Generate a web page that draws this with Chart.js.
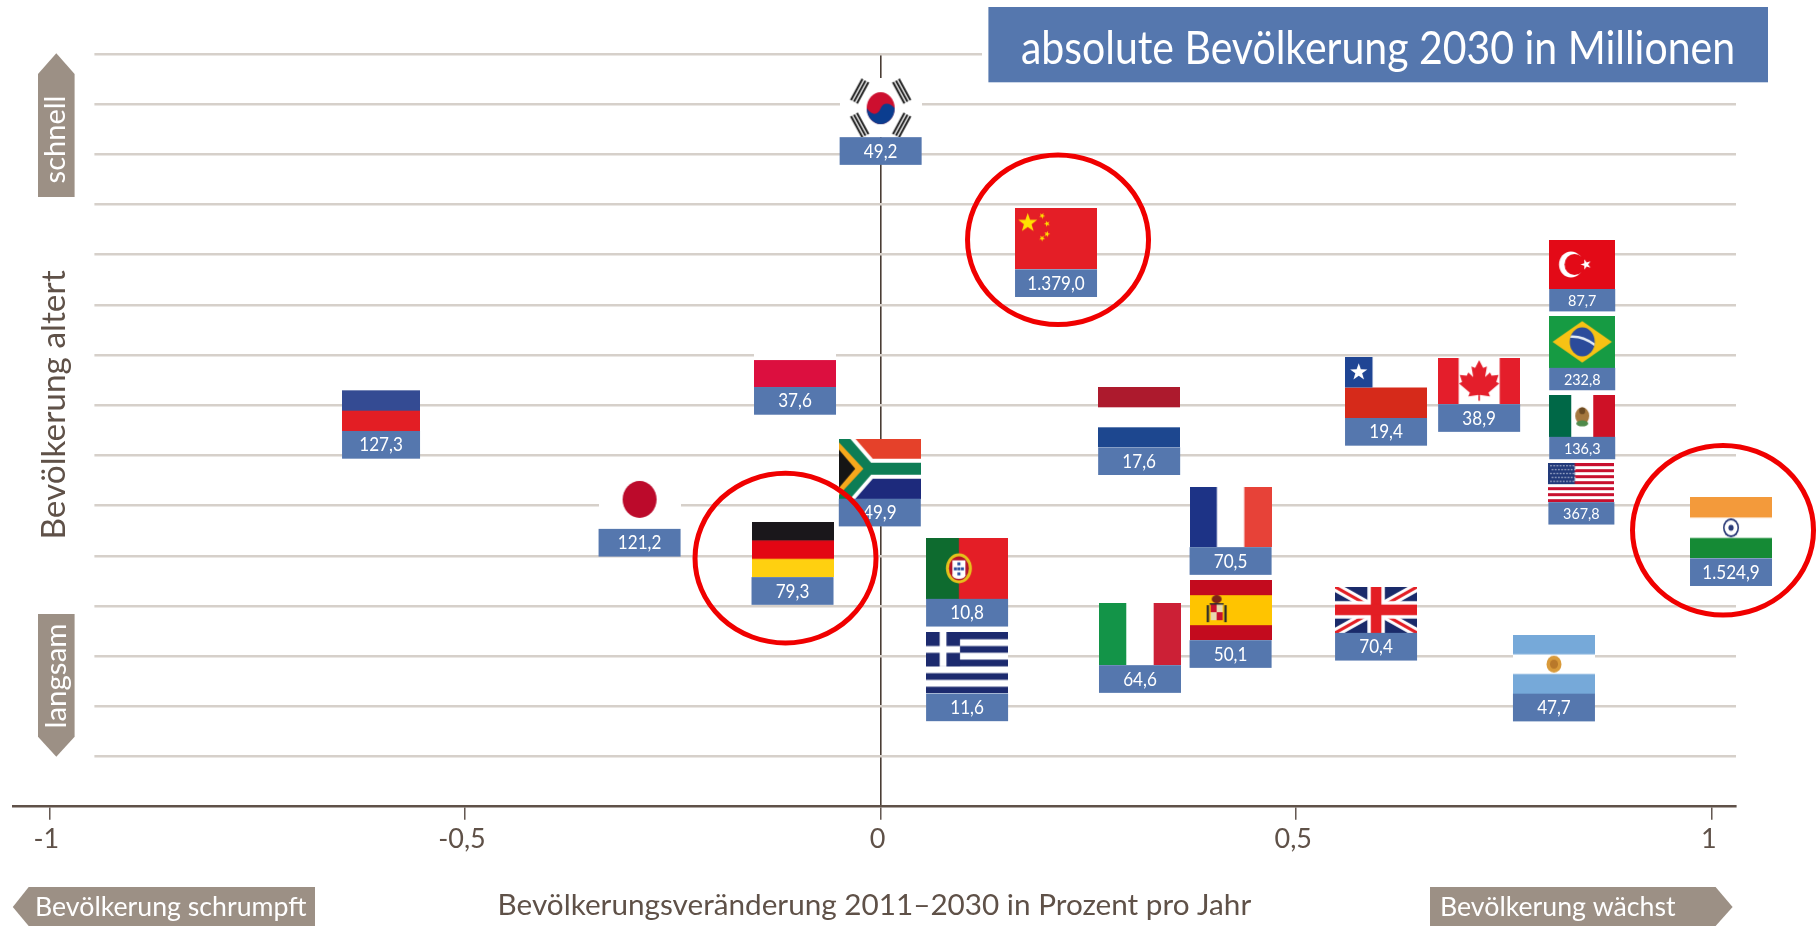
<!DOCTYPE html>
<html lang="de">
<head>
<meta charset="utf-8">
<title>absolute Bevölkerung 2030 in Millionen</title>
<script src="https://cdn.jsdelivr.net/npm/chart.js@4"></script>
<style>html,body{margin:0;padding:0;background:#fff;overflow:hidden}canvas{display:block}</style>
</head>
<body>
<canvas id="c" width="1818" height="926"></canvas>
<script>
// ---------- data ----------
const countries = ['KR','RU','PL','ZA','JP','DE','PT','GR','IT','FR','ES','GB','AR','IN','US','TR','BR','MX','CL','CA','CN','NL'];
const xValues = [0.000,-0.601,-0.103,-0.001,-0.290,-0.106,0.104,0.104,0.312,0.421,0.421,0.596,0.810,1.023,0.843,0.844,0.844,0.844,0.608,0.720,0.211,0.311];
const yValues = [13.925,8.092,8.898,6.733,6.122,5.121,4.748,2.863,3.437,5.768,3.915,3.921,2.839,5.556,6.455,10.801,9.260,7.786,8.351,8.477,11.313,7.757];
const population = [49.2,127.3,37.6,49.9,121.2,79.3,10.8,11.6,64.6,70.5,50.1,70.4,47.7,1524.9,367.8,87.7,232.8,136.3,19.4,38.9,1379.0,17.6];
const xTickValues = [-1,-0.5,0,0.5,1];
const yGridValues = [0,1,2,3,4,5,6,7,8,9,10,11,12,13,14,15];
const highlightCountries = ['CN','DE','IN'];
const highlightOffsetY = {CN:-0.02,DE:-0.17,IN:-0.05};

const chartTitle = 'absolute Bevölkerung 2030 in Millionen';
const xAxisTitle = 'Bevölkerungsveränderung 2011–2030 in Prozent pro Jahr';
const yAxisTitle = 'Bevölkerung altert';
const tagFast = 'schnell', tagSlow = 'langsam', tagShrink = 'Bevölkerung schrumpft', tagGrow = 'Bevölkerung wächst';

// ---------- styles ----------
const FONT = 'Lato';
const BROWN = '#5f5148', GRID = '#d6d0ca', TAG = '#9c9085', BLUE = '#5577ae', RED = '#f00000';

function bars(c,w,h,dir,cols){cols.forEach((col,i)=>{c.fillStyle=col;
  if(dir==='h')c.fillRect(0,h*i/cols.length,w,h/cols.length+.5);else c.fillRect(w*i/cols.length,0,w/cols.length+.5,h);});}
function star(c,x,y,r,rot,col){c.fillStyle=col;c.beginPath();
  for(let i=0;i<10;i++){const a=rot-Math.PI/2+i*Math.PI/5,q=i%2?r*.4:r;c.lineTo(x+q*Math.cos(a),y+q*Math.sin(a));}
  c.closePath();c.fill();}
function ell(c,x,y,rx,ry,col){c.fillStyle=col;c.beginPath();c.ellipse(x,y,rx,ry,0,0,7);c.fill();}
function poly(c,col,pts){c.fillStyle=col;c.beginPath();pts.forEach(p=>c.lineTo(p[0],p[1]));c.closePath();c.fill();}

const flagStyles = {
 KR:{w:82,h:59,draw(c,w,h){c.fillStyle='#fff';c.fillRect(0,0,w,h);
   const cx=w/2,cy=h/2+.5;
   [[-21,-17,.5],[21,-17,-.5],[-21,17,-.5],[21,17,.5]].forEach(t=>{c.save();c.translate(cx+t[0],cy+t[1]);c.rotate(t[2]);c.fillStyle='#1c1c1c';
     for(let i=-1;i<=1;i++)c.fillRect(i*3.4-1,-12,2,24);c.restore();});
   ell(c,cx,cy,14,16,'#cd0f2f');
   c.fillStyle='#0b3d8f';c.beginPath();c.ellipse(cx,cy,14,16,0,0,Math.PI);c.lineTo(cx-14,cy);c.bezierCurveTo(cx-8,cy+9,cx-2,cy+6,cx,cy);c.bezierCurveTo(cx+3,cy-7,cx+10,cy-5,cx+14,cy);c.fill();}},
 RU:{w:78,h:61,draw(c,w,h){bars(c,w,h,'h',['#fff','#344b93','#e31e24']);}},
 PL:{w:82,h:54,draw(c,w,h){bars(c,w,h,'h',['#fff','#dc0f3f']);}},
 ZA:{w:82,h:60,draw(c,w,h){c.fillStyle='#e5412a';c.fillRect(0,0,w,h/2);c.fillStyle='#1d2a7c';c.fillRect(0,h/2,w,h/2);
   const m=h/2,j=w*.36;
   c.lineJoin='miter';
   const path=()=>{c.beginPath();c.moveTo(0,-4);c.lineTo(j,m);c.lineTo(w+2,m);c.moveTo(j,m);c.lineTo(0,h+4);};
   c.strokeStyle='#fff';c.lineWidth=h*.33;path();c.stroke();
   c.strokeStyle='#0d7d55';c.lineWidth=h*.2;path();c.stroke();
   poly(c,'#f6a81c',[[0,h*.06],[w*.3,m],[0,h*.94]]);
   poly(c,'#151515',[[0,h*.18],[w*.2,m],[0,h*.82]]);}},
 JP:{w:82,h:59,draw(c,w,h){c.fillStyle='#fff';c.fillRect(0,0,w,h);ell(c,w/2,h/2,17,18.5,'#bc0a2b');}},
 DE:{w:82,h:55,draw(c,w,h){bars(c,w,h,'h',['#1a171b','#e30613','#ffd010']);}},
 PT:{w:82,h:61,draw(c,w,h){c.fillStyle='#e41e26';c.fillRect(0,0,w,h);c.fillStyle='#0e6b2f';c.fillRect(0,0,w*.4,h);
   const x=w*.4,y=h*.5;ell(c,x,y,13,15,'#e6c21c');ell(c,x,y,10,12,'#b5142a');c.fillStyle='#fff';c.fillRect(x-6.5,y-8,13,15);ell(c,x,y+7,6.5,3.5,'#fff');
   c.fillStyle='#2a4fa0';c.fillRect(x-1.5,y-6,3,3);c.fillRect(x-1.5,y-1,3,3);c.fillRect(x-1.5,y+4,3,3);c.fillRect(x-5,y-1,3,3);c.fillRect(x+2,y-1,3,3);}},
 GR:{w:82,h:61,draw(c,w,h){const s=h/9;for(let i=0;i<9;i++){c.fillStyle=i%2?'#fff':'#1c2a6e';c.fillRect(0,i*s,w,s+.4);}
   c.fillStyle='#1c2a6e';c.fillRect(0,0,s*5,s*5);c.fillStyle='#fff';c.fillRect(s*2,0,s,s*5);c.fillRect(0,s*2,s*5,s);}},
 IT:{w:82,h:62,draw(c,w,h){bars(c,w,h,'v',['#139448','#fff','#cc2036']);}},
 FR:{w:82,h:60,draw(c,w,h){bars(c,w,h,'v',['#1d3386','#fff','#e74238']);}},
 ES:{w:82,h:60,draw(c,w,h){bars(c,w,h,'h',['#c30b1e','#ffc400','#ffc400','#c30b1e']);
   const x=w*.33,y=h*.5;c.fillStyle='#c8102e';c.fillRect(x-6,y-6,6,8);c.fillStyle='#e8d9b0';c.fillRect(x,y-6,6,8);c.fillStyle='#e8d9b0';c.fillRect(x-6,y+2,6,8);c.fillStyle='#c8102e';c.fillRect(x,y+2,6,8);
   c.fillStyle='#2c2c2c';c.fillRect(x-10,y-5,2.4,17);c.fillRect(x+7.6,y-5,2.4,17);c.fillRect(x-7,y-7,14,1.5);ell(c,x,y-11,5,4,'#7d2418');}},
 GB:{w:82,h:46,draw(c,w,h){c.fillStyle='#1a2a6a';c.fillRect(0,0,w,h);c.save();
   c.beginPath();c.rect(0,0,w,h);c.clip();
   c.strokeStyle='#fff';c.lineWidth=h*.2;c.beginPath();c.moveTo(0,0);c.lineTo(w,h);c.moveTo(w,0);c.lineTo(0,h);c.stroke();
   c.strokeStyle='#e31e24';c.lineWidth=h*.07;c.beginPath();c.moveTo(0,0);c.lineTo(w,h);c.moveTo(w,0);c.lineTo(0,h);c.stroke();c.restore();
   c.fillStyle='#fff';c.fillRect(w/2-h*.19,0,h*.38,h);c.fillRect(0,h/2-h*.19,w,h*.38);
   c.fillStyle='#e31e24';c.fillRect(w/2-h*.115,0,h*.23,h);c.fillRect(0,h/2-h*.115,w,h*.23);}},
 AR:{w:82,h:59,draw(c,w,h){bars(c,w,h,'h',['#76a9d9','#fff','#76a9d9']);
   ell(c,w/2,h/2,7.5,8.5,'#d99a3a');ell(c,w/2,h/2,4,4.6,'#b9782a');}},
 IN:{w:82,h:61,draw(c,w,h){bars(c,w,h,'h',['#f39a3b','#fff','#158a35']);
   ell(c,w/2,h/2,8,9.4,'#2a3a78');ell(c,w/2,h/2,6.4,7.6,'#fff');ell(c,w/2,h/2,2.6,3,'#2a3a78');}},
 US:{w:66,h:39,draw(c,w,h){const s=h/13;for(let i=0;i<13;i++){c.fillStyle=i%2?'#fff':'#c8102e';c.fillRect(0,i*s,w,s+.3);}
   c.fillStyle='#223a7a';c.fillRect(0,0,w*.4,s*7);c.fillStyle='#e8ecf5';
   for(let r=0;r<5;r++)for(let k=0;k<8;k++)c.fillRect(2+k*3.2+(r%2)*1.5,2+r*3.9,1.2,1.2);}},
 TR:{w:66,h:49,draw(c,w,h){c.fillStyle='#e30a17';c.fillRect(0,0,w,h);const x=w*.33,y=h*.5;
   ell(c,x,y,12,13,'#fff');ell(c,x+3.5,y,10,10.5,'#e30a17');star(c,x+15,y,5.5,-Math.PI/2,'#fff');}},
 BR:{w:66,h:52,draw(c,w,h){c.fillStyle='#169b43';c.fillRect(0,0,w,h);poly(c,'#f7c214',[[w/2,h*.1],[w*.95,h/2],[w/2,h*.9],[w*.05,h/2]]);
   ell(c,w/2,h/2,12.5,14.5,'#2b4b9b');c.save();c.beginPath();c.ellipse(w/2,h/2,12.5,14.5,0,0,7);c.clip();c.strokeStyle='#e8eef5';c.lineWidth=2.4;c.beginPath();c.moveTo(w/2-14,h/2-5);c.quadraticCurveTo(w/2,h/2-7,w/2+14,h/2+4);c.stroke();c.restore();}},
 MX:{w:66,h:42,draw(c,w,h){bars(c,w,h,'v',['#006847','#fff','#ce1126']);ell(c,w/2,h*.5,7,8.5,'#a5783e');ell(c,w/2,h*.68,6,3,'#4f8a4a');ell(c,w/2,h*.38,3,3.4,'#6b4a22');}},
 CL:{w:82,h:61,draw(c,w,h){c.fillStyle='#fff';c.fillRect(0,0,w,h);c.fillStyle='#d62a1a';c.fillRect(0,h/2,w,h/2);c.fillStyle='#1f4594';c.fillRect(0,0,w*.335,h/2);star(c,w*.167,h*.25,9,0,'#fff');}},
 CA:{w:82,h:46,draw(c,w,h){c.fillStyle='#fff';c.fillRect(0,0,w,h);c.fillStyle='#e41e2b';c.fillRect(0,0,w*.25,h);c.fillRect(w*.75,0,w*.25,h);
   const x=w/2,y=h*.48,u=1.55;const p=[[0,-13],[2.6,-8],[5,-9],[3.8,-2],[7,-5],[8,-3],[12.5,-3.5],[11,1],[13,2],[6,8],[7,10.5],[.6,9.5],[.6,10],[-.6,10],[-.6,9.5],[-7,10.5],[-6,8],[-13,2],[-11,1],[-12.5,-3.5],[-8,-3],[-7,-5],[-3.8,-2],[-5,-9],[-2.6,-8]];
   poly(c,'#e41e2b',p.map(a=>[x+a[0]*u,y+a[1]*u]));c.fillStyle='#e41e2b';c.fillRect(x-.8,y+10*u,1.6,5);}},
 CN:{w:82,h:61,draw(c,w,h){c.fillStyle='#e41e26';c.fillRect(0,0,w,h);star(c,w*.155,h*.24,10,0,'#ffe100');
   [[.33,.09,.5],[.39,.22,.9],[.39,.39,.3],[.33,.46,.6]].forEach(s=>star(c,w*s[0],h*s[1]+2,3.2,s[2],'#ffe100'));}},
 NL:{w:82,h:60,draw(c,w,h){bars(c,w,h,'h',['#ad1a2d','#fff','#1d478f']);}}
};
const flagCanvases = countries.map(k=>{const s=flagStyles[k],cv=document.createElement('canvas');cv.width=s.w;cv.height=s.h;s.draw(cv.getContext('2d'),s.w,s.h);return cv;});
const smallLabel = {US:1,TR:1,BR:1,MX:1};

function formatPop(v){const p=v.toFixed(1).split('.');return p[0].replace(/\B(?=(\d{3})+$)/g,'.')+','+p[1];}

const painter = {
  id:'painter',
  beforeDraw(chart){const c=chart.ctx;c.save();c.fillStyle='#fff';c.fillRect(0,0,chart.width,chart.height);c.restore();},
  beforeDatasetsDraw(chart){const c=chart.ctx,a=chart.chartArea;c.save();c.fillStyle='#fff';
    c.fillRect(0,0,94.4,a.bottom-2);
    c.restore();},
  afterDatasetsDraw(chart){
    const c=chart.ctx,meta=chart.getDatasetMeta(0),xs=chart.scales.x,ys=chart.scales.y;
    c.save();
    // value labels under the flags
    c.textAlign='center';c.textBaseline='middle';
    meta.data.forEach((pt,i)=>{const k=countries[i],s=flagStyles[k],sm=smallLabel[k];
      const top=pt.y+s.h/2,lh=sm?22.4:27.7;
      c.fillStyle=BLUE;c.fillRect(pt.x-s.w/2,top,s.w,lh);
      c.fillStyle='#fff';c.font=(sm?16:19)+'px '+FONT;
      const t=formatPop(population[i]);
      c.fillText(t,pt.x,top+lh/2+.5,c.measureText(t).width*.9);});
    // red rings
    c.strokeStyle=RED;c.lineWidth=5;
    highlightCountries.forEach(k=>{const i=countries.indexOf(k);
      const px=xs.getPixelForValue(xValues[i])+({CN:2,DE:-7,IN:-8})[k];
      const py=ys.getPixelForValue(yValues[i]+highlightOffsetY[k]);
      c.beginPath();c.ellipse(px,py,90.5,84.8,0,0,7);c.stroke();});
    // title box
    c.fillStyle='#fff';c.fillRect(982,44,790,42);
    c.fillStyle=BLUE;c.fillRect(988.4,7,779.6,75.3);
    c.fillStyle='#fff';c.font='47px '+FONT;c.fillText(chartTitle,1378,49,714);
    // side tags
    poly(c,TAG,[[56.3,53.3],[74.6,74],[74.6,197],[38,197],[38,74]]);
    poly(c,TAG,[[38,614],[74.6,614],[74.6,736.7],[56.3,756.7],[38,736.7]]);
    poly(c,TAG,[[12.8,907],[28.7,887],[315,887],[315,926],[28.7,926]]);
    poly(c,TAG,[[1430,887],[1715.6,887],[1732.6,907],[1715.6,926],[1430,926]]);
    c.fillStyle='#fff';c.font='26.7px '+FONT;c.textAlign='left';
    c.fillText(tagShrink,35,907);c.fillText(tagGrow,1440,907);
    const vtext=(t,x,y,col,f)=>{c.save();c.translate(x,y);c.rotate(-Math.PI/2);c.textAlign='center';c.fillStyle=col;c.font=f;c.fillText(t,0,0);c.restore();};
    vtext(tagFast,56,139.5,'#fff','29px '+FONT);
    vtext(tagSlow,56,676,'#fff','29.5px '+FONT);
    vtext(yAxisTitle,54,405,BROWN,'33.4px '+FONT);
    c.restore();
  }
};

new Chart(document.getElementById('c'),{
  type:'scatter',
  plugins:[painter],
  data:{datasets:[{
    label:'Bevölkerung 2030',
    data:xValues.map((x,i)=>({x,y:yValues[i]})),
    pointStyle:flagCanvases,
    pointRadius:10,
    clip:false
  }]},
  options:{
    responsive:false,animation:false,
    events:[],
    layout:{padding:{left:12.8,right:82,top:53.7,bottom:0}},
    plugins:{legend:{display:false},tooltip:{enabled:false},title:{display:false}},
    scales:{
      x:{type:'linear',min:-1.044,max:1.029,
        afterBuildTicks:s=>{s.ticks=xTickValues.map(v=>({value:v}));},
        afterFit:s=>{s.height=119.3;},
        border:{color:BROWN,width:2.6},
        grid:{color:ctx=>ctx.tick&&ctx.tick.value===0?'#4a3d35':'rgba(0,0,0,0)',lineWidth:1.6,tickColor:'#4a3d35',tickLength:13,tickWidth:1.3},
        ticks:{color:BROWN,font:{family:FONT,size:27},padding:3,labelOffset:-3,maxRotation:0,autoSkip:false,
          callback:v=>String(v).replace('.',',')},
        title:{display:true,text:xAxisTitle,color:BROWN,font:{family:FONT,size:29.7},padding:{top:0,bottom:3}}
      },
      y:{type:'linear',min:0,max:15,
        afterBuildTicks:s=>{s.ticks=yGridValues.map(v=>({value:v}));},
        afterFit:s=>{s.width=0;},
        border:{display:false},
        grid:{color:ctx=>ctx.tick&&ctx.tick.value===0?'rgba(0,0,0,0)':GRID,lineWidth:2.4,drawTicks:false},
        ticks:{display:false}
      }
    }
  }
});
</script>
</body>
</html>
